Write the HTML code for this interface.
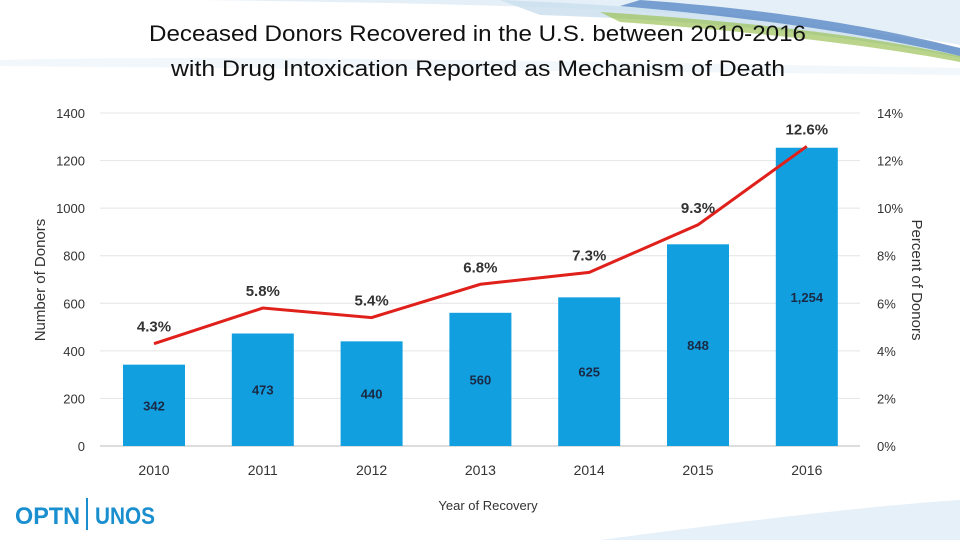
<!DOCTYPE html>
<html><head><meta charset="utf-8"><style>
body{margin:0;width:960px;height:540px;overflow:hidden;background:#fff;font-family:"Liberation Sans",sans-serif}
svg{position:absolute;left:0;top:0}
</style></head><body>
<svg width="960" height="540">
<g>
<path d="M200,0 L960,0 L960,45 C800,15 600,5 200,0Z" fill="#e4eff8"/>
<path d="M500,0 C700,8 850,25 960,48 L960,58 C850,35 700,20 540,15Z" fill="#c9dfee" opacity="0.8"/>
<path d="M600,12 C760,22 880,38 960,56 L960,62 C870,45 760,32 620,22Z" fill="#9cc35a" opacity="0.7"/>
<path d="M640,0 C780,10 880,28 960,48 L960,56 C880,36 760,18 620,6Z" fill="#5b8ac6" opacity="0.8"/>
<path d="M0,60 C200,55 500,60 960,68 L960,75 C500,70 200,68 0,66Z" fill="#e8f1f8" opacity="0.6"/>
<path d="M600,540 C750,520 880,505 960,500 L960,540Z" fill="#e6f0f8"/>
</g>
<text x="149" y="41" textLength="657" lengthAdjust="spacingAndGlyphs" font-family="Liberation Sans" font-size="22" fill="#111">Deceased Donors Recovered in the U.S. between 2010-2016</text>
<text x="171" y="76" textLength="614" lengthAdjust="spacingAndGlyphs" font-family="Liberation Sans" font-size="22" fill="#111">with Drug Intoxication Reported as Mechanism of Death</text>
<g id="grid"></g><g id="bars"></g><g id="line"></g><g id="labels"></g>
<text transform="translate(45,280) rotate(-90)" text-anchor="middle" font-size="15" fill="#333">Number of Donors</text>
<text transform="translate(912,280) rotate(90)" text-anchor="middle" font-size="15" fill="#333">Percent of Donors</text>
<text x="488" y="510" text-anchor="middle" font-size="13" fill="#333">Year of Recovery</text>
<g>
<text x="15" y="524" textLength="65" lengthAdjust="spacingAndGlyphs" font-size="24" font-weight="bold" fill="#1a8fcf">OPTN</text>
<rect x="86" y="498" width="2" height="32" fill="#1a8fcf"/>
<text x="95" y="524" textLength="60" lengthAdjust="spacingAndGlyphs" font-size="24" font-weight="bold" fill="#1a8fcf">UNOS</text>
</g>
</svg>
<script>
const years=["2010","2011","2012","2013","2014","2015","2016"];
const donors=[342,473,440,560,625,848,1254];
const percents=[4.3,5.8,5.4,6.8,7.3,9.3,12.6];
const leftTicks=[0,200,400,600,800,1000,1200,1400];
const rightTicks=["0%","2%","4%","6%","8%","10%","12%","14%"];
const NS="http://www.w3.org/2000/svg";
const y0=446,y1=113,x0=100,x1=860;
const yL=v=>y0-(v/1400)*(y0-y1);
const yR=p=>y0-(p/14)*(y0-y1);
const xC=i=>154+i*108.8;
function mk(t,a,p){const e=document.createElementNS(NS,t);for(const k in a)e.setAttribute(k,a[k]);p.appendChild(e);return e;}
const g=document.getElementById('grid'),b=document.getElementById('bars'),l=document.getElementById('line'),lb=document.getElementById('labels');
leftTicks.forEach((v,i)=>{
 const ln=mk('line',{x1:x0,x2:x1,y1:yL(v),y2:yL(v),stroke:i==0?'#bbb':'#e4e4e4','stroke-width':1},g);
 
 
 const t=mk('text',{x:85,y:yL(v)+5,'text-anchor':'end','font-size':13,fill:'#333'},g);t.textContent=v;
 
 
 const r=mk('text',{x:877,y:yL(v)+5,'font-size':13,fill:'#333'},g);r.textContent=rightTicks[i];
 
 
});
donors.forEach((v,i)=>{
 const r=mk('rect',{x:xC(i)-31,y:yL(v),width:62,height:y0-yL(v),fill:'#129fe0'},b);
 
 
 const t=mk('text',{x:xC(i),y:yL(v/2)+5,'text-anchor':'middle','font-size':13,'font-weight':'bold',fill:'#1a2a44'},lb);t.textContent=v>=1000?v.toLocaleString('en-US'):v;
 
 
 const x=mk('text',{x:xC(i),y:475,'text-anchor':'middle','font-size':14,fill:'#333'},lb);x.textContent=years[i];
 
 
});
const pl=mk('polyline',{points:percents.map((p,i)=>xC(i)+','+yR(p)).join(' '),fill:'none',stroke:'#e0201b','stroke-width':3},l);


percents.forEach((p,i)=>{
 const t=mk('text',{x:xC(i),y:yR(p)-12,'text-anchor':'middle','font-size':15,'font-weight':'bold',fill:'#333'},lb);t.textContent=p.toFixed(1)+'%';
 
 
});
</script>
</body></html>
